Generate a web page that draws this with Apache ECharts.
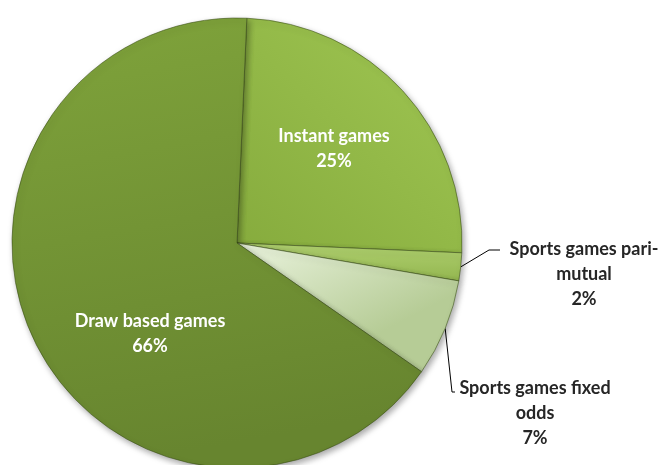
<!DOCTYPE html>
<html>
<head>
<meta charset="utf-8">
<script src="https://cdn.jsdelivr.net/npm/echarts@6/dist/echarts.min.js"></script>
<style>
html,body{margin:0;padding:0;background:#fff;}
#chart{width:670px;height:465px;}
</style>
</head>
<body>
<div id="chart"></div>
<script>
const categories = ['Instant games', 'Sports games pari-mutual', 'Sports games fixed odds', 'Draw based games'];
const labelTexts = ['Instant games', 'Sports games pari-\nmutual', 'Sports games fixed\nodds', 'Draw based games'];
const values = [25, 2, 7, 66];

const grad = (x, y, x2, y2, a, b) => ({type: 'linear', x: x, y: y, x2: x2, y2: y2,
  colorStops: [{offset: 0, color: a}, {offset: 1, color: b}]});
const sliceStyles = [
  {color: grad(1, 0, 0, 1, '#a0c753', '#86ab3d')},
  {color: grad(0, 0, 0, 1, '#b0d070', '#93b64f')},
  {color: grad(0, 0, 0.3, 1, '#eaf3de', '#b6cc96')},
  {color: grad(0, 0, 0.2, 1, '#7fa33b', '#67852f')}
];
const inside = [true, false, false, true];
const labelPos = [[334, 136], [584, 249], [535, 388], [150, 321]];
const lineBends = [null, [[489, 250], [500, 250]], [[452, 392], [455, 392]], null];

const chart = echarts.init(document.getElementById('chart'), null, {renderer: 'canvas'});
chart.setOption({
  animation: false,
  series: [{
    type: 'pie',
    center: [237, 243],
    radius: 225,
    startAngle: 87.5,
    clockwise: true,
    avoidLabelOverlap: false,
    itemStyle: {
      borderColor: 'rgba(55,75,20,0.55)',
      borderWidth: 1,
      shadowBlur: 6,
      shadowColor: 'rgba(0,0,0,0.35)',
      shadowOffsetX: 2,
      shadowOffsetY: 3
    },
    label: {
      fontFamily: 'Lato',
      fontWeight: 'bold',
      fontSize: 18,
      lineHeight: 25,
      align: 'center'
    },
    labelLine: {lineStyle: {color: '#000', width: 1}, length: 10, length2: 10},
    data: categories.map((c, i) => ({
      name: c,
      value: values[i],
      itemStyle: sliceStyles[i],
      label: {
        position: inside[i] ? 'inside' : 'outside',
        color: inside[i] ? '#ffffff' : '#262626',
        formatter: labelTexts[i] + '\n' + values[i] + '%'
      },
      labelLine: {show: !inside[i]}
    })),
    labelLayout: function (p) {
      const i = p.dataIndex;
      const res = {x: labelPos[i][0], y: labelPos[i][1] - 12.5, align: 'center', verticalAlign: 'top'};
      if (lineBends[i] && p.labelLinePoints) {
        res.labelLinePoints = [p.labelLinePoints[0]].concat(lineBends[i]);
      }
      return res;
    }
  }]
});
</script>
</body>
</html>
